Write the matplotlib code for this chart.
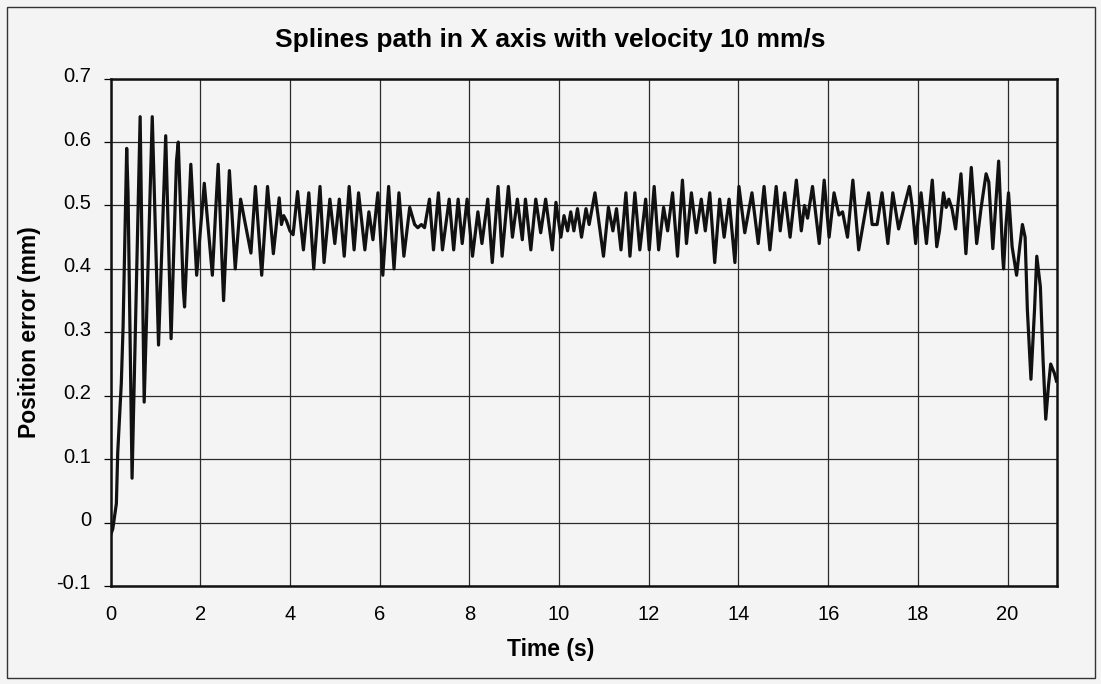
import matplotlib
matplotlib.use("Agg")
import matplotlib.pyplot as plt
import matplotlib.transforms as mtransforms
from matplotlib.patches import Rectangle

plt.rcParams['font.family'] = ['Liberation Sans', 'DejaVu Sans']

# position error (peaks, troughs and bends)
t_start = [0.0, 0.05, 0.13, 0.16, 0.24, 0.28, 0.36, 0.39, 0.48, 0.66, 0.75, 0.93, 1.07, 1.23,
           1.35, 1.47, 1.51, 1.62, 1.65, 1.79, 1.92, 2.09, 2.27, 2.35, 2.40, 2.52, 2.65, 2.78,
           2.90, 2.98, 3.13, 3.23, 3.37, 3.50]
e_start = [-0.02, -0.01, 0.03, 0.11, 0.22, 0.31, 0.59, 0.52, 0.07, 0.64, 0.19, 0.64, 0.28, 0.61,
           0.29, 0.57, 0.60, 0.37, 0.34, 0.565, 0.39, 0.535, 0.39, 0.50, 0.565, 0.35, 0.555, 0.40,
           0.51, 0.48, 0.425, 0.53, 0.39, 0.53]

t_mid1 = [3.63, 3.76, 3.81, 3.86, 3.92, 4.0, 4.07, 4.17, 4.22, 4.30, 4.42, 4.53, 4.67, 4.76,
          4.89, 5.0, 5.10, 5.21, 5.32, 5.43, 5.53, 5.67, 5.76, 5.85, 5.96, 6.07, 6.20, 6.32,
          6.43, 6.54, 6.67, 6.78, 6.85, 6.93, 7.0]
e_mid1 = [0.424, 0.512, 0.47, 0.484, 0.476, 0.46, 0.454, 0.522, 0.484, 0.43, 0.52, 0.40, 0.53, 0.41,
          0.51, 0.44, 0.51, 0.42, 0.53, 0.43, 0.52, 0.43, 0.49, 0.446, 0.52, 0.39, 0.53, 0.40,
          0.52, 0.42, 0.497, 0.47, 0.465, 0.47, 0.465]

t_mid2 = [7.11, 7.20, 7.31, 7.40, 7.55, 7.65, 7.75, 7.84, 7.95, 8.07, 8.19, 8.28, 8.41, 8.51,
          8.64, 8.73, 8.87, 8.96, 9.07, 9.18, 9.25, 9.37, 9.48, 9.59, 9.70, 9.85, 9.93, 10.04,
          10.11, 10.19, 10.26, 10.33, 10.41, 10.50, 10.60, 10.67]
e_mid2 = [0.51, 0.43, 0.52, 0.43, 0.51, 0.43, 0.51, 0.44, 0.51, 0.42, 0.49, 0.44, 0.51, 0.41,
          0.53, 0.42, 0.53, 0.45, 0.51, 0.446, 0.51, 0.43, 0.51, 0.457, 0.51, 0.43, 0.505, 0.45,
          0.484, 0.46, 0.49, 0.46, 0.495, 0.45, 0.495, 0.47]

t_mid3 = [10.80, 10.99, 11.10, 11.20, 11.28, 11.38, 11.49, 11.58, 11.69, 11.80, 11.93, 12.01,
          12.12, 12.22, 12.33, 12.42, 12.53, 12.64, 12.75, 12.84, 12.95, 13.06, 13.17, 13.26,
          13.36, 13.47, 13.58, 13.68, 13.79, 13.92, 14.01, 14.14]
e_mid3 = [0.52, 0.42, 0.497, 0.46, 0.495, 0.43, 0.52, 0.42, 0.52, 0.43, 0.51, 0.43,
          0.53, 0.43, 0.497, 0.46, 0.52, 0.42, 0.54, 0.44, 0.52, 0.457, 0.51, 0.46,
          0.52, 0.41, 0.51, 0.45, 0.51, 0.41, 0.53, 0.457]

t_mid4 = [14.30, 14.44, 14.57, 14.70, 14.84, 14.93, 15.03, 15.15, 15.29, 15.40, 15.47, 15.54,
          15.65, 15.80, 15.91, 16.02, 16.13, 16.24, 16.32, 16.43, 16.55, 16.68, 16.76, 16.90,
          16.98, 17.09, 17.20, 17.33, 17.44, 17.57, 17.70]
e_mid4 = [0.52, 0.44, 0.53, 0.43, 0.53, 0.46, 0.52, 0.45, 0.54, 0.46, 0.50, 0.48,
          0.53, 0.44, 0.54, 0.45, 0.52, 0.485, 0.49, 0.45, 0.54, 0.43, 0.463, 0.52,
          0.47, 0.47, 0.52, 0.44, 0.52, 0.463, 0.50]

t_end = [17.81, 17.87, 17.95, 18.02, 18.07, 18.13, 18.19, 18.24, 18.32, 18.42, 18.48, 18.57,
         18.63, 18.69, 18.76, 18.84, 18.96, 19.07, 19.19, 19.31, 19.41, 19.52, 19.58, 19.67,
         19.80, 19.89, 19.91, 19.96, 20.02, 20.10, 20.20, 20.27, 20.33, 20.39, 20.44, 20.52,
         20.60, 20.65, 20.73, 20.79, 20.85, 20.91, 20.96, 21.04, 21.09]
e_end = [0.53, 0.50, 0.44, 0.49, 0.52, 0.48, 0.44, 0.48, 0.54, 0.435, 0.46, 0.52,
         0.497, 0.51, 0.495, 0.463, 0.55, 0.424, 0.56, 0.44, 0.497, 0.55, 0.537, 0.432,
         0.57, 0.42, 0.40, 0.466, 0.52, 0.435, 0.39, 0.435, 0.47, 0.45, 0.336, 0.226,
         0.336, 0.42, 0.372, 0.257, 0.163, 0.215, 0.25, 0.236, 0.223]

time_s = t_start + t_mid1 + t_mid2 + t_mid3 + t_mid4 + t_end
error_mm = e_start + e_mid1 + e_mid2 + e_mid3 + e_mid4 + e_end

x_ticks = list(range(0, 21, 2))
y_ticks = [-0.1, 0, 0.1, 0.2, 0.3, 0.4, 0.5, 0.6, 0.7]
y_labels = ['-0.1', '0', '0.1', '0.2', '0.3', '0.4', '0.5', '0.6', '0.7']

bg = '#f4f4f4'
fig = plt.figure(figsize=(11.01, 6.84), dpi=100, facecolor=bg)
ax = fig.add_axes([0.1004, 0.1433, 0.8596, 0.7417], facecolor=bg)

ax.plot(time_s, error_mm, color='#111111', lw=2.3, solid_joinstyle='round', zorder=3)

ax.set_xlim(0, 21.1)
ax.set_ylim(-0.1, 0.7)
ax.set_xticks(x_ticks)
ax.set_yticks(y_ticks)
ax.set_yticklabels(y_labels)
ax.grid(True, color='#2a2a2a', lw=0.9)
ax.tick_params(axis='y', direction='out', length=5, width=0.9, labelsize=14.5, pad=9)
ax.tick_params(axis='x', length=0, labelsize=14.5, pad=14)
for s in ax.spines.values():
    s.set_linewidth(1.8)
    s.set_color('#111111')

# y labels in the original sit a bit above their gridlines
shift = mtransforms.ScaledTranslation(0, 4 / 100, fig.dpi_scale_trans)
for lab in ax.get_yticklabels():
    lab.set_transform(lab.get_transform() + shift)

# title and axis titles are centred on the whole chart, like Excel does
fig.text(0.5, 1 - 47 / 684, 'Splines path in X axis with velocity 10 mm/s', fontsize=19,
         fontweight='bold', ha='center', va='baseline')
fig.text(0.5, 1 - 656 / 684, 'Time (s)', fontsize=16.5, fontweight='bold',
         ha='center', va='baseline')
fig.text(30 / 1101, 1 - 332 / 684, 'Position error (mm)', fontsize=16.5, fontweight='bold',
         ha='center', va='center', rotation=90)

fig.patches.append(Rectangle((7 / 1101, 6 / 684), 1088 / 1101, 671 / 684, transform=fig.transFigure,
                             fill=False, lw=1.0, edgecolor='#333333'))

fig.savefig('out.png', dpi=100, facecolor=bg)
